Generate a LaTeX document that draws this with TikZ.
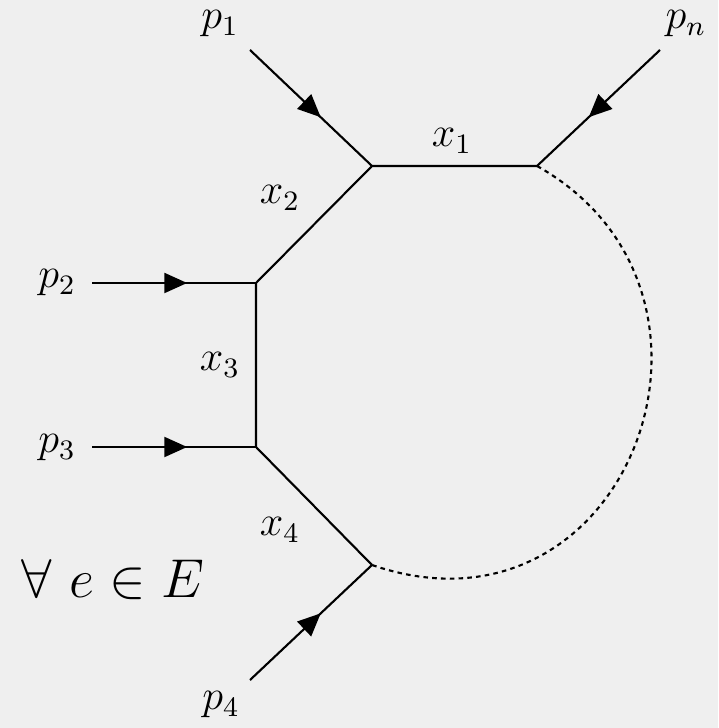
\documentclass[tikz,border=0pt]{standalone}
\usepackage{amsmath, amssymb}
\usepackage{tikz}
\usetikzlibrary{
    arrows.meta,          % Required for the Triangle tips
    decorations.markings  % Required for the tips half way along the legs
}
\definecolor{bgpaper}{HTML}{EFEFEF}

\begin{document}
\begin{tikzpicture}[x=0.01cm, y=-0.01cm, line width=0.6pt,
        leg/.style={postaction={decorate}, decoration={markings,
            mark=at position 0.58 with {\arrow{Triangle[length=6.5pt,width=5.7pt]}}}},
        lbl/.style={font=\large, inner sep=0pt}]
        % Paper
        \fill[bgpaper] (0,0) rectangle (718,728);
        \useasboundingbox (0,0) rectangle (718,728);

        % Vertices of the loop
        \coordinate (v1) at (372,166);
        \coordinate (vn) at (537,166);
        \coordinate (v2) at (256,283);
        \coordinate (v3) at (256,447);
        \coordinate (v4) at (372,565);

        % Free ends of the external legs
        \coordinate (e1) at (250,50);
        \coordinate (en) at (660,50);
        \coordinate (e2) at (92,283);
        \coordinate (e3) at (92,447);
        \coordinate (e4) at (250,680);

        % Loop propagators
        \draw (vn) -- (v1) -- (v2) -- (v3) -- (v4);
        \draw[dash pattern=on 1.3pt off 1.2pt]
            (vn) .. controls +(225,126) and +(256,88) .. (v4);

        % External momenta
        \draw[leg] (e1) -- (v1);
        \draw[leg] (en) -- (vn);
        \draw[leg] (e2) -- (v2);
        \draw[leg] (e3) -- (v3);
        \draw[leg] (e4) -- (v4);

        % Labels
        \node[lbl] (lp1) at (220,24) {$p_1$};
        \node[lbl] (lpn) at (686,24) {$p_n$};
        \node[lbl] (lp2) at (57,283) {$p_2$};
        \node[lbl] (lp3) at (57,448) {$p_3$};
        \node[lbl] (lp4) at (221,705) {$p_4$};
        \node[lbl] (lx1) at (452,141) {$x_1$};
        \node[lbl] (lx2) at (280,198) {$x_2$};
        \node[lbl] (lx3) at (220,365) {$x_3$};
        \node[lbl] (lx4) at (280,530) {$x_4$};
        \node[inner sep=0pt, font=\Large, scale=1.08] (all) at (113,580) {$\forall\ e \in E$};
\end{tikzpicture}
\end{document}
